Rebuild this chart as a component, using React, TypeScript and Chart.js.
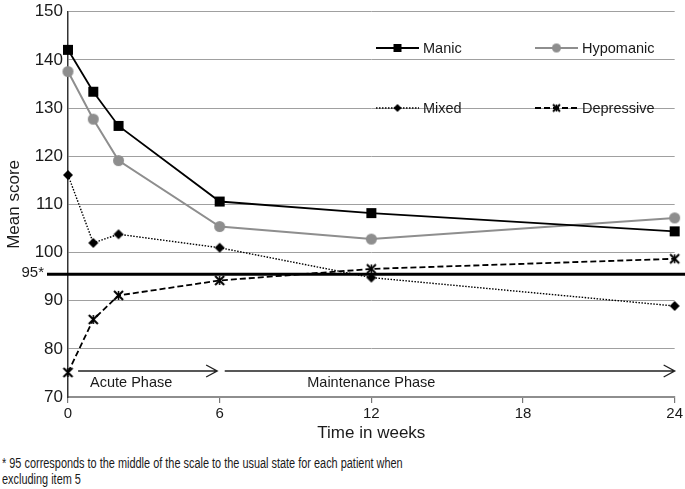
import React, { useEffect, useRef } from 'react';
import { Chart, registerables } from 'chart.js';
Chart.register(...registerables);

const weeks = [0, 1, 2, 6, 12, 24];
const manic = [142.1, 133.4, 126.3, 110.6, 108.2, 104.4];
const hypomanic = [137.6, 127.7, 119.1, 105.4, 102.8, 107.2];
const mixed = [116.1, 102.0, 103.8, 101.0, 94.8, 88.9];
const depressive = [75.1, 86.1, 91.1, 94.2, 96.6, 98.7];
const seriesNames = ['Manic', 'Hypomanic', 'Mixed', 'Depressive'];
const xTickStep = 6;
const xRange = [0, 24];
const yRange = [70, 150];
const yTickStep = 10;
const referenceValue = 95.5;
const referenceLabel = '95*';
const phaseNames = ['Acute Phase', 'Maintenance Phase'];
const phaseStart = [0.4, 6.2];
const phaseEnd = [5.9, 24];
const phaseLabelAt = [2.5, 12];
const phaseArrowValue = 75.4;
const phaseLabelValue = 72.9;
const xTitle = 'Time in weeks';
const yTitle = 'Mean score';
const footnote = [
  '* 95 corresponds to the middle of the scale to the usual state for each patient when',
  'excluding item 5',
];

const FONT = '"Liberation Sans", Arial, Helvetica, sans-serif';
const GRAY = '#8e8e8e';
const INK = '#1a1a1a';

function makeMarker(kind: string, size: number, color: string): HTMLCanvasElement {
  const c = document.createElement('canvas');
  const pad = 2;
  c.width = size + pad * 2;
  c.height = size + pad * 2;
  const g = c.getContext('2d')!;
  const m = c.width / 2;
  const h = size / 2;
  g.fillStyle = color;
  g.strokeStyle = color;
  if (kind === 'square') {
    g.fillRect(m - h, m - h, size, size);
  } else if (kind === 'circle') {
    g.beginPath();
    g.arc(m, m, h, 0, Math.PI * 2);
    g.fill();
  } else if (kind === 'diamond') {
    g.beginPath();
    g.moveTo(m, m - h);
    g.lineTo(m + h, m);
    g.lineTo(m, m + h);
    g.lineTo(m - h, m);
    g.closePath();
    g.fill();
  } else {
    g.lineWidth = 2;
    g.beginPath();
    g.moveTo(m - h, m - h);
    g.lineTo(m + h, m + h);
    g.moveTo(m + h, m - h);
    g.lineTo(m - h, m + h);
    g.stroke();
    g.lineWidth = 1.5;
    g.beginPath();
    g.moveTo(m, m - h);
    g.lineTo(m, m + h);
    g.stroke();
  }
  return c;
}

export default function App() {
  const ref = useRef<HTMLCanvasElement | null>(null);

  useEffect(() => {
    const canvas = ref.current;
    if (!canvas) return;

    const styles = [
      { color: '#000', width: 1.8, dash: [] as number[], kind: 'square', size: 10, lsize: 8 },
      { color: GRAY, width: 2, dash: [] as number[], kind: 'circle', size: 11, lsize: 9 },
      { color: '#000', width: 1.4, dash: [1.5, 1.5], kind: 'diamond', size: 10, lsize: 8 },
      { color: '#000', width: 1.8, dash: [6, 3], kind: 'star', size: 9, lsize: 7 },
    ];
    const values = [manic, hypomanic, mixed, depressive];
    const markers = styles.map((s) => makeMarker(s.kind, s.size, s.color));
    const legendMarkers = styles.map((s) => makeMarker(s.kind, s.lsize, s.color));

    const datasets = values.map((arr, i) => ({
      label: seriesNames[i],
      data: weeks.map((w, j) => ({ x: w, y: arr[j] })),
      borderColor: styles[i].color,
      backgroundColor: styles[i].color,
      borderWidth: styles[i].width,
      borderDash: styles[i].dash,
      pointStyle: markers[i] as any,
      pointRadius: 5,
      pointHoverRadius: 5,
      tension: 0,
      fill: false,
      clip: false as any,
    }));

    const overlay = {
      id: 'overlay',
      afterDatasetsDraw(chart: any) {
        const { ctx, chartArea } = chart;
        const x = chart.scales.x;
        const y = chart.scales.y;
        ctx.save();
        // reference line
        const ry = y.getPixelForValue(referenceValue);
        ctx.strokeStyle = '#000';
        ctx.lineWidth = 3;
        ctx.setLineDash([]);
        ctx.beginPath();
        ctx.moveTo(chartArea.left - 21, ry);
        ctx.lineTo(chart.width, ry);
        ctx.stroke();
        ctx.font = `15px ${FONT}`;
        ctx.fillStyle = INK;
        ctx.textAlign = 'right';
        ctx.textBaseline = 'middle';
        ctx.fillText(referenceLabel, chartArea.left - 24, ry - 1);

        // phase arrows
        ctx.strokeStyle = '#222';
        ctx.lineWidth = 1.4;
        const ay = y.getPixelForValue(phaseArrowValue);
        for (let i = 0; i < phaseNames.length; i++) {
          const x0 = x.getPixelForValue(phaseStart[i]);
          const x1 = x.getPixelForValue(phaseEnd[i]);
          ctx.beginPath();
          ctx.moveTo(x0, ay);
          ctx.lineTo(x1, ay);
          ctx.moveTo(x1 - 11, ay - 6);
          ctx.lineTo(x1, ay);
          ctx.lineTo(x1 - 11, ay + 6);
          ctx.stroke();
        }
        ctx.font = `14.5px ${FONT}`;
        ctx.textAlign = 'center';
        const ly = y.getPixelForValue(phaseLabelValue);
        for (let i = 0; i < phaseNames.length; i++) {
          ctx.fillText(phaseNames[i], x.getPixelForValue(phaseLabelAt[i]), ly);
        }

        // legend
        const cols = [376, 535];
        const rows = [48, 108];
        ctx.font = `14.5px ${FONT}`;
        ctx.textAlign = 'left';
        ctx.textBaseline = 'middle';
        for (let i = 0; i < seriesNames.length; i++) {
          const lx = cols[i % 2];
          const lyy = rows[Math.floor(i / 2)];
          const s = styles[i];
          ctx.strokeStyle = s.color;
          ctx.lineWidth = s.width;
          ctx.setLineDash(s.dash);
          ctx.beginPath();
          ctx.moveTo(lx, lyy);
          ctx.lineTo(lx + 43, lyy);
          ctx.stroke();
          ctx.setLineDash([]);
          const mk = legendMarkers[i];
          ctx.drawImage(mk, lx + 21.5 - mk.width / 2, lyy - mk.height / 2);
          ctx.fillStyle = INK;
          ctx.fillText(seriesNames[i], lx + 47, lyy + 1);
        }
        ctx.restore();
      },
    };

    const chart = new Chart(canvas, {
      type: 'line',
      data: { datasets: datasets as any },
      options: {
        responsive: false,
        animation: false,
        layout: { padding: { top: 7, right: 9, left: 0, bottom: 0 } },
        plugins: { legend: { display: false }, tooltip: { enabled: false } },
        scales: {
          x: {
            type: 'linear',
            min: xRange[0],
            max: xRange[1],
            afterFit: (s: any) => { s.height = 48; },
            ticks: { stepSize: xTickStep, color: INK, padding: 2, font: { family: FONT, size: 15 } },
            grid: { drawOnChartArea: false, drawTicks: true, tickLength: 6, color: '#777', lineWidth: 1.2 },
            border: { color: GRAY, width: 2 },
            title: { display: true, text: xTitle, color: INK, font: { family: FONT, size: 17 }, padding: { top: 0, bottom: 1 } },
          },
          y: {
            type: 'linear',
            min: yRange[0],
            max: yRange[1],
            afterFit: (s: any) => { s.width = 68; },
            ticks: { stepSize: yTickStep, color: INK, padding: 5, font: { family: FONT, size: 17, lineHeight: 0.8 } },
            grid: { drawTicks: false, color: '#a0a0a0', lineWidth: 1 },
            border: { color: '#333', width: 1.5 },
            title: { display: true, text: yTitle, color: INK, font: { family: FONT, size: 17 }, padding: { top: 4, bottom: 0 } },
          },
        },
      },
      plugins: [overlay],
    });
    return () => chart.destroy();
  }, []);

  return (
    <div style={{ position: 'absolute', left: 0, top: 0, width: 685, height: 489, background: '#fff' }}>
      <canvas ref={ref} width={685} height={445} style={{ position: 'absolute', left: 0, top: 0 }} />
      <div
        style={{
          position: 'absolute',
          left: 2,
          top: 455,
          fontFamily: FONT,
          fontSize: 14,
          lineHeight: '16px',
          color: INK,
          whiteSpace: 'nowrap',
          transform: 'scaleX(0.78)',
          transformOrigin: 'left top',
        }}
      >
        {footnote.map((t, i) => (
          <div key={i}>{t}</div>
        ))}
      </div>
    </div>
  );
}
